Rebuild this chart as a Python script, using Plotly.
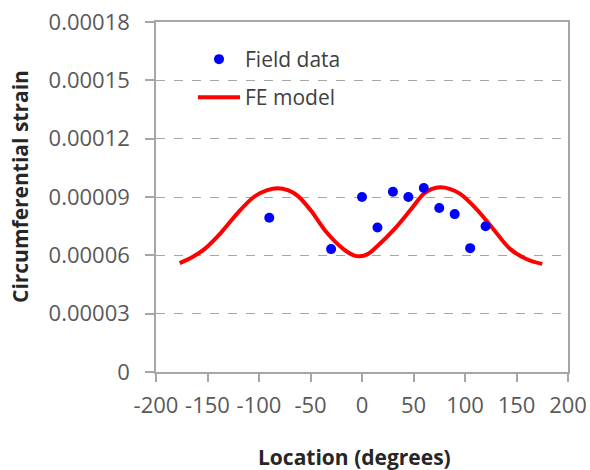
import plotly.graph_objects as go

# Field data (measured)
field_loc = [-90, -30, 0, 15, 30, 45, 60, 75, 90, 105, 120]
field_strain = [7.93e-5, 6.32e-5, 9.0e-5, 7.43e-5, 9.27e-5, 9.0e-5, 9.46e-5, 8.43e-5, 8.12e-5, 6.37e-5, 7.5e-5]

# FE model curve
fe_loc = [-177, -165, -153, -137, -121, -105, -92, -82, -72, -63, -50, -34, -18, -8, -2, 5, 15, 31, 47,
          60, 68, 76, 85, 95, 112, 128, 144, 160, 175]
fe_strain = [5.6e-5, 5.9e-5, 6.32e-5, 7.16e-5, 8.16e-5, 9.0e-5, 9.35e-5, 9.45e-5, 9.35e-5, 9.08e-5, 8.33e-5,
             7.16e-5, 6.32e-5, 6.0e-5, 5.95e-5, 6.05e-5, 6.48e-5, 7.32e-5, 8.33e-5, 9.17e-5, 9.42e-5, 9.5e-5,
             9.42e-5, 9.17e-5, 8.33e-5, 7.32e-5, 6.32e-5, 5.8e-5, 5.56e-5]

x_ticks = [-200, -150, -100, -50, 0, 50, 100, 150, 200]
x_tick_text = ["-200", "-150", "-100", "-50", "0", "50", "100", "150", "200"]
y_ticks = [0, 0.00003, 0.00006, 0.00009, 0.00012, 0.00015, 0.00018]
y_tick_text = ["0", "0.00003", "0.00006", "0.00009", "0.00012", "0.00015", "0.00018"]

FONT = "Open Sans, Noto Sans, sans-serif"
AXIS_GRAY = "#a6a6a6"
TICK_FONT = dict(family=FONT, size=22, color="#595959")

W, H = 590, 470
L, T = 156, 22
R, B = W - 568, H - 372
pw, ph = W - L - R, H - T - B


def px_to_paper(xs, ys):
    """pixel (from top-left) -> paper coords"""
    return (xs - L) / pw, (H - B - ys) / ph


fig = go.Figure()
fig.add_trace(go.Scatter(
    x=fe_loc, y=fe_strain, mode="lines", name="FE model",
    line=dict(color="#ff0000", width=4, shape="spline", smoothing=1.0),
    legend="legend2",
))
fig.add_trace(go.Scatter(
    x=field_loc, y=field_strain, mode="markers", name="Field data",
    marker=dict(color="#0000ff", size=10),
    legend="legend",
))

xt_x, xt_y = px_to_paper(354, 457)
yt_x, yt_y = px_to_paper(20, 187)
lg1_x, lg1_y = px_to_paper(193, 39)
lg2_x, lg2_y = px_to_paper(193, 77)

fig.update_layout(
    width=W, height=H,
    margin=dict(l=L, r=R, t=T, b=B, autoexpand=False),
    paper_bgcolor="white", plot_bgcolor="white",
    showlegend=True,
    legend=dict(x=lg1_x, y=lg1_y, xanchor="left", yanchor="top",
                font=dict(family=FONT, size=21, color="#404040"),
                bgcolor="rgba(255,255,255,0)", itemwidth=42),
    legend2=dict(x=lg2_x, y=lg2_y, xanchor="left", yanchor="top",
                 font=dict(family=FONT, size=21, color="#404040"),
                 bgcolor="rgba(255,255,255,0)", itemwidth=42),
    xaxis=dict(range=[-200, 200], tickvals=x_ticks, ticktext=x_tick_text, ticks="outside", ticklen=8,
               tickcolor=AXIS_GRAY, tickwidth=1.5, showline=True, linecolor=AXIS_GRAY,
               linewidth=1.5, mirror=True, showgrid=False, zeroline=False, automargin=False,
               tickfont=TICK_FONT, ticklabelstandoff=5, ticklabeloverflow="allow"),
    yaxis=dict(range=[0, 0.00018], tickvals=y_ticks, ticktext=y_tick_text, ticks="outside",
               ticklen=9, tickcolor=AXIS_GRAY, tickwidth=1.5, showline=True, linecolor=AXIS_GRAY,
               linewidth=1.5, mirror=True, showgrid=True, gridcolor=AXIS_GRAY, griddash="dash",
               gridwidth=1.2, zeroline=False, automargin=False, tickfont=TICK_FONT,
               ticklabelstandoff=11, ticklabeloverflow="allow"),
    annotations=[
        dict(text="<b>Location (degrees)</b>", x=xt_x, y=xt_y, xref="paper", yref="paper",
             xanchor="center", yanchor="middle", showarrow=False,
             font=dict(family=FONT, size=21, color="#262626")),
        dict(text="<b>Circumferential strain</b>", x=yt_x, y=yt_y, xref="paper", yref="paper",
             xanchor="center", yanchor="middle", textangle=-90, showarrow=False,
             font=dict(family=FONT, size=21, color="#262626")),
    ],
)

# remove the default 8px page margin so the figure sits at the window's top-left corner
fig.write_html("out.html", config={"displayModeBar": False},
               post_script="document.body.style.margin='0';")
